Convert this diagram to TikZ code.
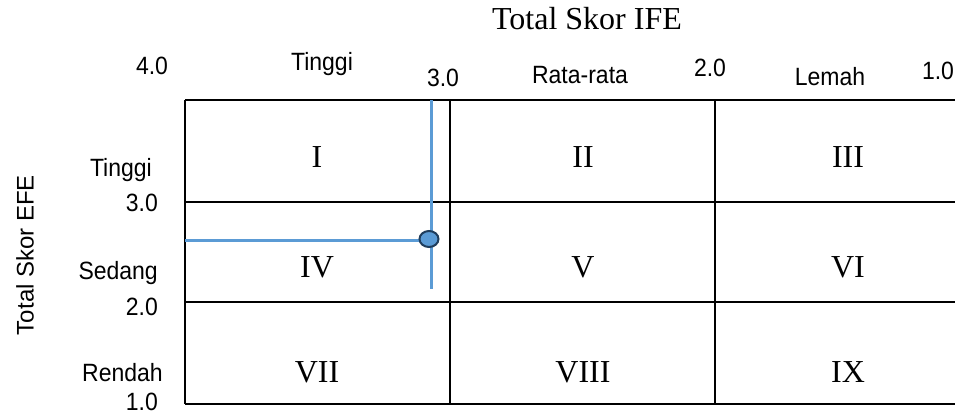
\documentclass[tikz,border=0pt]{standalone}
\usepackage{fontspec}
\usetikzlibrary{shapes.geometric}
\setmainfont{Liberation Serif}
\setsansfont{Liberation Sans}
\newfontfamily\narrowsans[FakeStretch=0.92]{Liberation Sans}
\definecolor{ptblue}{HTML}{5B9BD5}
\definecolor{ptedge}{HTML}{1F3D5C}
\tikzset{
  axislbl/.style={font=\narrowsans\fontsize{25}{25}\selectfont, inner sep=0pt},
  cell/.style={font=\fontsize{32}{32}\selectfont, inner sep=0pt},
  gridline/.style={line width=2pt},
  scoreline/.style={line width=3pt, ptblue}
}
\begin{document}
\begin{tikzpicture}[x=1pt,y=-1pt]
\useasboundingbox (0,0) rectangle (955,415);
\node[font=\fontsize{32}{32}\selectfont, inner sep=0pt] (ife) at (587,19) {Total Skor IFE};
\node[font=\sffamily\fontsize{24}{24}\selectfont, inner sep=0pt, rotate=90] (efe) at (25,255) {Total Skor EFE};
\node[axislbl] (x4) at (152,66) {4.0};
\node[axislbl] (xhi) at (322,64) {Tinggi};
\node[axislbl] (x3) at (443,78) {3.0};
\node[axislbl] (xmid) at (580,75) {Rata-rata};
\node[axislbl] (x2) at (710,68) {2.0};
\node[axislbl] (xlo) at (830,77) {Lemah};
\node[axislbl] (x1) at (938,71) {1.0};
\node[axislbl, anchor=east] (yhi) at (152,170) {Tinggi};
\node[axislbl, anchor=east] (y3) at (158,203) {3.0};
\node[axislbl, anchor=east] (ymid) at (158,273) {Sedang};
\node[axislbl, anchor=east] (y2) at (158,307) {2.0};
\node[axislbl, anchor=east] (ylo) at (163,373) {Rendah};
\node[axislbl, anchor=east] (y1) at (158,402) {1.0};
% grid
\foreach \y in {100,202,302,404} \draw[gridline] (185,\y) -- (955,\y);
\foreach \x in {185,450,715} \draw[gridline] (\x,100) -- (\x,404);
% cells
\node[cell] (c1) at (317,157) {I};
\node[cell] (c2) at (583,157) {II};
\node[cell] (c3) at (848,157) {III};
\node[cell] (c4) at (317,267) {IV};
\node[cell] (c5) at (583,267) {V};
\node[cell] (c6) at (848,267) {VI};
\node[cell] (c7) at (317,372) {VII};
\node[cell] (c8) at (583,372) {VIII};
\node[cell] (c9) at (848,372) {IX};
% position of the score
\coordinate (top) at (431,100);
\coordinate (bot) at (431,289);
\coordinate (left) at (185,240);
\draw[scoreline] (top) -- (bot);
\draw[scoreline] (left) -- (431,240);
\node[ellipse, draw=ptedge, fill=ptblue, line width=2pt, minimum width=19pt, minimum height=16pt, inner sep=0pt] (pt) at (429,239) {};
\end{tikzpicture}
\end{document}
